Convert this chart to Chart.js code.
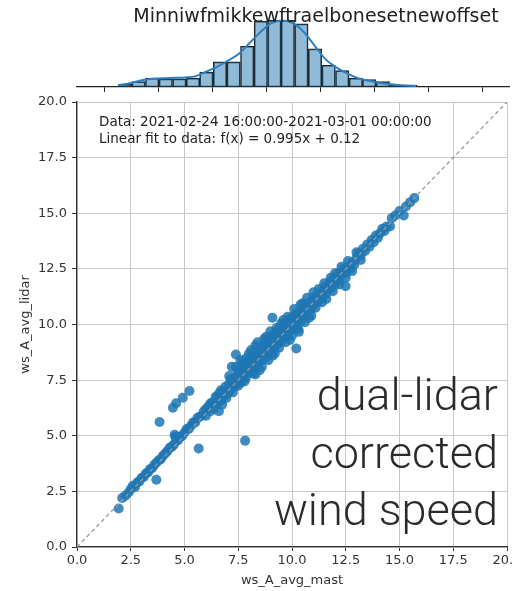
<!DOCTYPE html>
<html>
<head>
<meta charset="utf-8">
<title>ws_A_avg_mast vs ws_A_avg_lidar</title>
<script src="https://cdn.jsdelivr.net/npm/chart.js@4.4.0/dist/chart.umd.min.js"></script>
<style>
  html, body { margin: 0; padding: 0; background: #fff; }
  #wrap { position: relative; width: 512px; height: 591px; overflow: hidden; }
  #wrap canvas { position: absolute; left: 0; top: 0; }
  #title {
    position: absolute; left: 316px; top: 4px; transform: translateX(-50%);
    white-space: nowrap; font: 19px/22px "DejaVu Sans", sans-serif; color: #222;
  }
  #overlay {
    position: absolute; right: 14px; top: 366px; text-align: right;
    font: 300 45px/57.5px Roboto, "Noto Sans", sans-serif; color: #2b2b2b;
  }
</style>
</head>
<body>
<div id="wrap">
  <canvas id="main" width="512" height="591"></canvas>
  <canvas id="hist" width="512" height="100"></canvas>
  <div id="title">Minniwfmikkewftraelbonesetnewoffset</div>
  <div id="overlay">dual-lidar<br>corrected<br>wind speed</div>
</div>
<script>
// marginal histogram of ws_A_avg_mast
const histCenters = [2.22, 2.85, 3.48, 4.11, 4.74, 5.37, 5.99, 6.62, 7.25, 7.88, 8.51,
                     9.14, 9.76, 10.39, 11.02, 11.65, 12.28, 12.91, 13.53, 14.16, 14.79, 15.42]
const histCounts = [4, 8, 13, 12, 12, 13, 22, 37, 37, 60, 97, 98, 98, 93, 56, 32, 24, 13, 11, 8, 3, 3]

// kde curve over the histogram (count units)
const kdeX = [1.9, 2.5, 3.0, 3.5, 4.0, 4.5, 5.0, 5.5, 6.0, 6.5, 7.0, 7.5, 8.0, 8.5, 9.0, 9.5,
              10.0, 10.5, 11.0, 11.5, 12.0, 12.5, 13.0, 13.5, 14.0, 14.5, 15.0, 15.7]
const kdeY = [2.5, 6, 10, 12, 13, 13.5, 14, 16, 23, 30, 39, 49, 65, 81, 94, 98,
              94, 81, 61, 41, 29, 20, 13, 9, 6, 4, 2.5, 1.5]

// [ws_A_avg_mast, ws_A_avg_lidar]
const mastVsLidar = [
  [1.94, 1.73], [2.1, 2.2], [2.25, 2.3], [2.4, 2.45], [2.5, 2.6], [2.6, 2.75], [2.7, 2.7],
  [2.8, 2.9], [2.9, 2.95], [3.0, 3.1], [3.1, 3.15], [3.2, 3.3], [3.3, 3.35], [3.4, 3.5],
  [3.5, 3.55], [3.6, 3.7], [3.69, 3.02], [3.7, 3.8], [3.8, 3.9], [3.9, 3.95], [4.0, 4.1],
  [4.1, 4.2], [4.2, 4.3], [4.3, 4.45], [4.4, 4.5], [4.5, 4.6], [4.54, 5.04], [4.58, 4.96],
  [4.6, 4.75], [4.7, 4.8], [4.8, 4.95], [4.9, 5.0], [5.0, 5.15], [5.1, 5.3], [5.2, 5.3],
  [5.3, 5.45], [5.4, 5.6], [5.5, 5.6], [5.6, 5.8], [5.66, 4.43], [5.7, 5.85], [5.8, 5.9],
  [5.9, 6.1], [6.0, 6.2], [6.0, 5.9],
  [3.84, 5.62], [4.46, 6.26], [4.61, 6.46], [4.92, 6.71], [5.23, 7.01], [7.82, 4.78],
  [6.1, 6.3], [6.2, 6.1], [6.2, 6.45], [6.3, 6.5], [6.35, 6.2], [6.4, 6.4], [6.45, 6.75],
  [6.5, 6.7], [6.55, 6.5], [6.6, 6.9], [6.6, 6.1], [6.7, 6.6], [6.7, 7.05], [6.75, 6.4],
  [6.8, 7.0], [6.85, 6.8], [6.9, 7.2], [6.95, 6.7], [7.0, 6.9], [7.05, 7.3], [7.08, 7.68],
  [7.1, 7.0], [7.15, 7.55], [7.2, 7.4], [7.2, 8.1], [7.25, 6.95], [7.3, 7.2], [7.35, 7.6],
  [7.39, 8.65], [7.4, 7.3], [7.4, 8.1], [7.45, 7.95], [7.5, 7.8], [7.5, 7.25], [7.55, 7.5],
  [7.6, 7.9], [7.6, 8.4], [7.65, 7.4], [7.7, 8.0], [7.7, 8.3], [7.75, 7.7], [7.8, 8.2],
  [7.8, 7.45], [7.85, 7.6], [7.9, 8.1], [7.9, 8.5], [7.95, 7.8], [8.0, 8.4],
  [8.0, 7.9], [8.0, 8.7], [8.05, 8.2], [8.1, 8.5], [8.1, 8.85], [8.15, 8.0], [8.2, 8.3],
  [8.2, 7.8], [8.25, 8.6], [8.3, 8.1], [8.3, 9.05], [8.3, 7.75], [8.35, 8.4], [8.4, 8.8],
  [8.4, 9.2], [8.45, 8.3], [8.5, 8.6], [8.5, 7.95], [8.55, 8.9], [8.6, 8.4], [8.6, 8.1],
  [8.65, 8.7], [8.7, 9.1], [8.7, 9.35], [8.75, 8.5], [8.8, 8.9], [8.8, 9.45], [8.85, 9.2],
  [8.9, 8.7], [8.9, 8.4], [8.95, 9.0], [9.0, 9.4], [9.0, 8.8], [9.0, 9.7], [9.05, 9.1],
  [9.09, 10.3], [9.1, 9.5], [9.1, 8.6], [9.15, 8.9], [9.2, 9.3], [9.2, 8.7], [9.25, 9.6],
  [9.3, 9.1], [9.3, 9.85], [9.35, 9.4], [9.4, 9.8], [9.4, 8.95], [9.45, 9.2], [9.5, 9.6],
  [9.5, 10.05], [9.55, 9.9], [9.6, 9.4], [9.6, 10.2], [9.65, 9.7], [9.7, 10.0], [9.7, 9.2],
  [9.75, 9.5], [9.8, 9.9], [9.8, 10.35], [9.85, 10.2], [9.9, 9.7], [9.9, 9.3], [9.95, 10.0],
  [10.0, 10.3], [10.0, 9.8], [10.0, 9.5], [10.05, 10.1], [10.1, 10.4], [10.1, 10.7],
  [10.15, 9.9], [10.2, 10.2], [10.2, 8.92], [10.25, 10.5], [10.3, 10.1], [10.3, 9.8],
  [10.32, 9.67], [10.35, 10.4], [10.4, 10.6], [10.4, 10.9], [10.45, 10.2], [10.5, 10.5],
  [10.5, 10.95], [10.55, 10.7], [10.6, 10.4], [10.6, 10.1], [10.65, 10.6], [10.7, 10.9],
  [10.7, 11.2], [10.75, 10.6], [10.8, 10.8], [10.8, 10.3], [10.85, 11.0], [10.9, 10.7],
  [10.9, 10.4], [10.95, 11.0], [11.0, 11.2], [11.0, 11.45],
  [11.0, 10.9], [11.1, 11.1], [11.1, 10.75], [11.15, 11.3], [11.2, 11.0], [11.25, 11.6],
  [11.3, 11.3], [11.35, 11.5], [11.4, 11.2], [11.4, 11.0], [11.5, 11.5], [11.5, 11.85],
  [11.55, 11.7], [11.6, 11.4], [11.6, 11.15], [11.7, 11.7], [11.75, 11.9], [11.8, 11.6],
  [11.8, 12.1], [11.9, 11.9], [11.9, 11.5], [11.95, 12.1], [12.0, 11.8], [12.0, 12.3],
  [12.1, 12.1], [12.15, 12.3], [12.2, 12.0], [12.2, 11.8], [12.3, 12.3], [12.3, 12.6],
  [12.4, 12.5], [12.49, 11.72], [12.5, 12.3], [12.5, 12.1], [12.6, 12.6], [12.6, 12.85],
  [12.7, 12.5], [12.8, 12.8], [12.8, 12.4], [12.9, 12.7], [13.0, 13.0], [13.0, 13.25],
  [13.1, 13.2], [13.2, 13.1], [13.2, 12.9], [13.3, 13.4], [13.4, 13.3], [13.5, 13.6],
  [13.6, 13.5], [13.7, 13.8], [13.8, 13.7], [13.9, 14.0], [14.0, 13.9], [14.1, 14.1],
  [14.2, 14.3], [14.3, 14.2], [14.4, 14.4], [14.56, 14.41], [14.64, 14.78], [14.8, 14.9],
  [15.0, 15.1], [15.2, 14.9], [15.3, 15.3], [15.5, 15.5], [15.69, 15.68]
]

const noteLines = [
  'Data: 2021-02-24 16:00:00-2021-03-01 00:00:00',
  'Linear fit to data: f(x) = 0.995x + 0.12'
]

const tickFont = { family: 'DejaVu Sans', size: 13 }
const fmt = v => Number(v).toFixed(1)

// text box in the upper left of the scatter axes
const notePlugin = {
  id: 'note',
  afterDatasetsDraw(chart) {
    const { ctx, chartArea } = chart
    ctx.save()
    ctx.font = '13.5px "DejaVu Sans"'
    ctx.fillStyle = '#222'
    ctx.textBaseline = 'alphabetic'
    noteLines.forEach((t, i) => ctx.fillText(t, chartArea.left + 22, chartArea.top + 24 + i * 17.3))
    ctx.restore()
  }
}

new Chart(document.getElementById('main'), {
  type: 'scatter',
  data: {
    datasets: [
      {
        type: 'line',
        data: [{ x: 0, y: 0 }, { x: 20, y: 20 }],
        borderColor: '#9a9a9a',
        borderDash: [4, 3],
        borderWidth: 1.3,
        pointRadius: 0,
        order: 0
      },
      {
        data: mastVsLidar.map(p => ({ x: p[0], y: p[1] })),
        backgroundColor: 'rgba(31,119,180,0.85)',
        borderWidth: 0,
        pointRadius: 5,
        order: 1
      }
    ]
  },
  options: {
    responsive: false,
    animation: false,
    events: [],
    layout: { padding: { left: 0, right: 3, top: 102, bottom: 0 } },
    plugins: { legend: { display: false }, tooltip: { enabled: false } },
    scales: {
      x: {
        type: 'linear', min: 0, max: 20,
        ticks: { stepSize: 2.5, font: tickFont, color: '#333', padding: 2, maxRotation: 0, callback: fmt },
        grid: { color: '#c8c8c8', tickColor: '#333', tickLength: 4 },
        border: { color: '#333', width: 1.3 },
        title: { display: true, text: 'ws_A_avg_mast', font: tickFont, color: '#333', padding: { top: 0, bottom: 3 } },
        afterFit: s => { s.height = 44; s.paddingLeft = 0; s.paddingRight = 0 }
      },
      y: {
        type: 'linear', min: 0, max: 20,
        ticks: { stepSize: 2.5, font: tickFont, color: '#333', padding: 5, callback: fmt },
        grid: { color: '#c8c8c8', tickColor: '#333', tickLength: 5 },
        border: { color: '#333', width: 1.3 },
        title: { display: true, text: 'ws_A_avg_lidar', font: tickFont, color: '#333', padding: { top: 18, bottom: 0 } },
        afterFit: s => { s.width = 77; s.paddingTop = 0; s.paddingBottom = 0 }
      }
    }
  },
  plugins: [notePlugin]
})

new Chart(document.getElementById('hist'), {
  type: 'bar',
  data: {
    datasets: [
      {
        type: 'line',
        data: kdeX.map((x, i) => ({ x, y: kdeY[i] })),
        borderColor: '#2f7fbf',
        borderWidth: 2,
        pointRadius: 0,
        cubicInterpolationMode: 'monotone',
        order: 0
      },
      {
        data: histCenters.map((x, i) => ({ x, y: histCounts[i] })),
        backgroundColor: 'rgba(31,119,180,0.5)',
        borderColor: '#222',
        borderWidth: 1,
        borderSkipped: false,
        barPercentage: 1,
        categoryPercentage: 1,
        order: 1
      }
    ]
  },
  options: {
    responsive: false,
    animation: false,
    events: [],
    layout: { padding: { left: 77, right: 3, top: 17, bottom: 8 } },
    plugins: { legend: { display: false }, tooltip: { enabled: false } },
    scales: {
      x: {
        type: 'linear', min: 0, max: 20, offset: false,
        ticks: { stepSize: 2.5, display: false },
        grid: { drawOnChartArea: false, tickColor: '#222', tickLength: 5 },
        border: { color: '#222', width: 1.3 },
        afterFit: s => { s.height = 5; s.paddingLeft = 0; s.paddingRight = 0 }
      },
      y: { display: false, min: 0, max: 103 }
    }
  }
})
</script>
</body>
</html>
